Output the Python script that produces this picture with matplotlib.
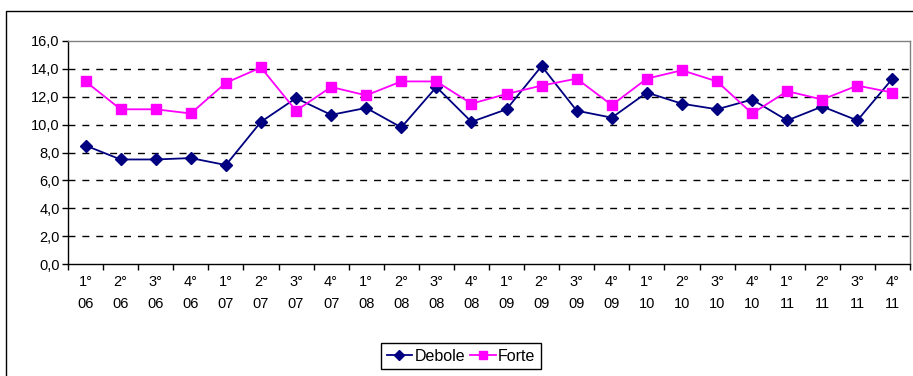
import matplotlib
matplotlib.use("Agg")
import matplotlib.pyplot as plt
from matplotlib.patches import Rectangle
from matplotlib.ticker import FuncFormatter, FixedLocator

plt.rcParams['font.family'] = ['Liberation Sans', 'DejaVu Sans']
plt.rcParams['font.size'] = 10.5

categories = ["1°\n06", "2°\n06", "3°\n06", "4°\n06",
              "1°\n07", "2°\n07", "3°\n07", "4°\n07",
              "1°\n08", "2°\n08", "3°\n08", "4°\n08",
              "1°\n09", "2°\n09", "3°\n09", "4°\n09",
              "1°\n10", "2°\n10", "3°\n10", "4°\n10",
              "1°\n11", "2°\n11", "3°\n11", "4°\n11"]

debole = [8.5, 7.5, 7.5, 7.6, 7.1, 10.2, 11.9, 10.7, 11.2, 9.8, 12.7, 10.2,
          11.1, 14.2, 11.0, 10.5, 12.3, 11.5, 11.1, 11.8, 10.3, 11.3, 10.3, 13.3]
forte = [13.1, 11.1, 11.1, 10.8, 13.0, 14.1, 11.0, 12.7, 12.1, 13.1, 13.1, 11.5,
         12.2, 12.8, 13.3, 11.4, 13.3, 13.9, 13.1, 10.8, 12.4, 11.8, 12.8, 12.3]

W, H = 913, 376
fig = plt.figure(figsize=(W / 100, H / 100), dpi=100)
ax = fig.add_axes([68 / W, 1 - 264 / H, (910 - 68) / W, (264 - 41) / H])

x = list(range(len(categories)))
ax.plot(x, debole, color='#000080', marker='D', markersize=6.5, lw=1.3,
        label='Debole', zorder=3)
ax.plot(x, forte, color='#FF00FF', marker='s', markersize=7, lw=1.3,
        label='Forte', zorder=3)

ax.set_xlim(-0.5, len(categories) - 0.5)
ax.set_ylim(0, 16)
ax.set_yticks([0, 2, 4, 6, 8, 10, 12, 14, 16])
ax.yaxis.set_major_formatter(FuncFormatter(lambda v, p: f"{v:.1f}".replace('.', ',')))

ax.xaxis.set_major_locator(FixedLocator([i - 0.5 for i in range(len(categories) + 1)]))
ax.set_xticklabels([], minor=False)
ax.set_xticks(x, minor=True)
ax.set_xticklabels(categories, minor=True, linespacing=1.7)
ax.tick_params(axis='x', which='major', direction='out', length=4, width=1, color='black')
ax.tick_params(axis='x', which='minor', length=0, pad=8)
ax.tick_params(axis='y', direction='out', length=4, width=1, color='black', pad=2)

for yv in [2, 4, 6, 8, 10, 12, 14]:
    ax.axhline(yv, color='black', lw=1, ls=(0, (5, 5)), zorder=1)

for s in ['left', 'bottom']:
    ax.spines[s].set_color('black')
    ax.spines[s].set_linewidth(1)
for s in ['top', 'right']:
    ax.spines[s].set_color('#808080')
    ax.spines[s].set_linewidth(1)

leg = fig.legend(loc='upper center', bbox_to_anchor=(461 / W, 1 - 343 / H), ncol=2,
                 frameon=True, fancybox=False, edgecolor='black', framealpha=1,
                 fontsize=11.5, handlelength=1.6, handletextpad=0.15, columnspacing=0.3,
                 borderpad=0.35, borderaxespad=0, markerscale=0.75)
leg.get_frame().set_linewidth(1)

fig.patches.append(Rectangle((6 / W, -0.2), 1.2, 1.2 - 11 / H, transform=fig.transFigure,
                             fill=False, edgecolor='black', lw=1, clip_on=False))

fig.savefig('out.png', dpi=100)
